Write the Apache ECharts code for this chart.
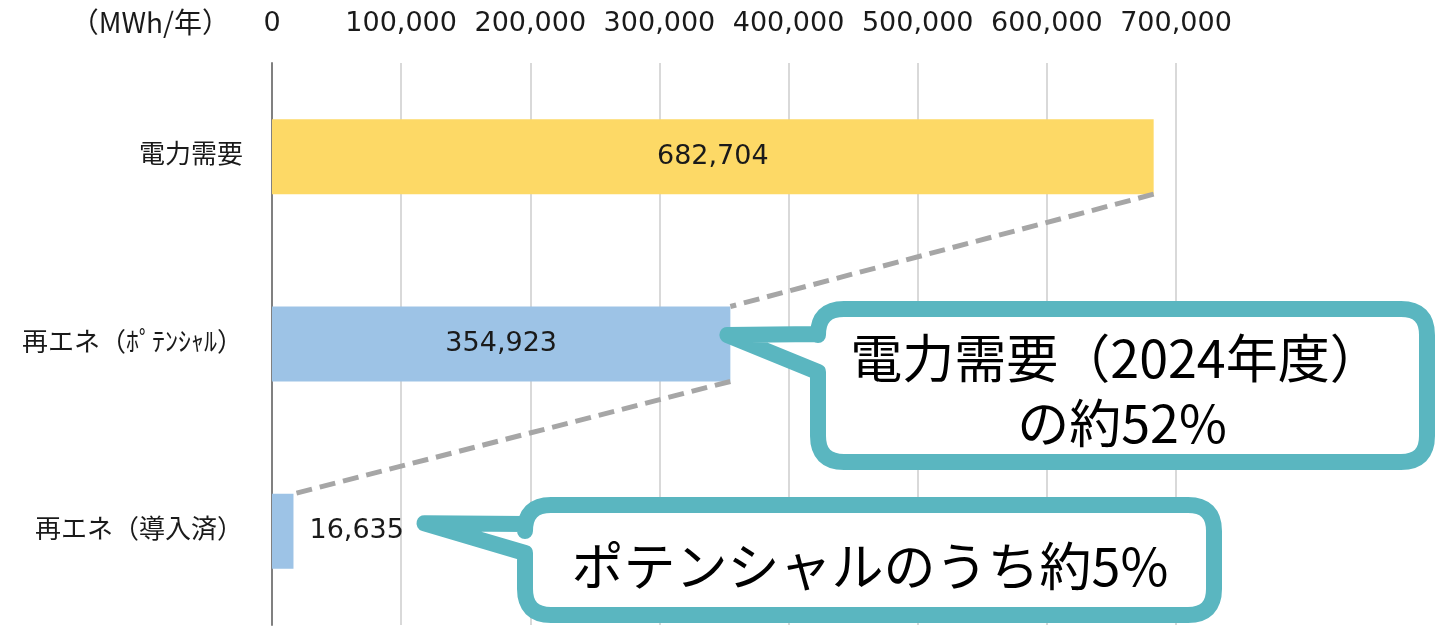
<!DOCTYPE html>
<html>
<head>
<meta charset="utf-8">
<script src="https://cdn.jsdelivr.net/npm/echarts@6/dist/echarts.min.js"></script>
<style>
html,body{margin:0;padding:0;background:#fff;}
#chart{width:1437px;height:626px;}
</style>
</head>
<body>
<div id="chart"></div>
<script>
// ---- data ----
const categories = ['電力需要', '再エネ（ﾎﾟﾃﾝｼｬﾙ）', '再エネ（導入済）'];
const values = [682704, 354923, 16635];
const barColors = ['#FDD966', '#9DC3E6', '#9DC3E6'];
const unitLabel = '（MWh/年）';
const callout1Lines = ['電力需要（2024年度）', 'の約52%'];
const callout2Text = 'ポテンシャルのうち約5%';
const axisMin = 0, axisMax = 700000, axisStep = 100000;

const NUM_FONT = '"DejaVu Sans", "Noto Sans CJK JP", sans-serif';
const JP_FONT = '"Noto Sans CJK JP", sans-serif';
const TEAL = '#5AB6C0';

const fmt = v => v.toLocaleString('en-US');

const connectors = [
  [values[0], 0, values[1], 1],
  [values[1], 1, values[2], 2]
];

function calloutPath(L, T, R, B, r, y1, y2, tx, ty) {
  return [
    'M', L + r, T,
    'L', R - r, T,
    'Q', R, T, R, T + r,
    'L', R, B - r,
    'Q', R, B, R - r, B,
    'L', L + r, B,
    'Q', L, B, L, B - r,
    'L', L, y2,
    'L', tx, ty,
    'L', L, y1,
    'L', L, T + r,
    'Q', L, T, L + r, T,
    'Z'
  ].join(' ');
}

const chart = echarts.init(document.getElementById('chart'), null, {renderer: 'canvas'});

chart.setOption({
  animation: false,
  backgroundColor: '#ffffff',
  grid: {left: 272, right: 261, top: 63, bottom: 1, containLabel: false},
  graphic: [
    {
      type: 'text', x: 230, y: 22, z: 10,
      style: {text: unitLabel, fill: '#1a1a1a', font: '28px ' + JP_FONT, textAlign: 'right', textVerticalAlign: 'middle', verticalAlign: 'middle'}
    }
  ],
  xAxis: {
    type: 'value', position: 'top', min: axisMin, max: axisMax, interval: axisStep,
    axisLine: {show: false}, axisTick: {show: false},
    axisLabel: {
      margin: 26, color: '#1a1a1a', fontSize: 27, fontFamily: NUM_FONT,
      formatter: v => fmt(v)
    },
    splitLine: {show: true, lineStyle: {color: '#D9D9D9', width: 2}}
  },
  yAxis: {
    type: 'category', data: categories, inverse: true,
    axisLine: {show: true, lineStyle: {color: '#808080', width: 2}},
    axisTick: {show: false},
    axisLabel: {margin: 29, color: '#1a1a1a', fontSize: 26, fontFamily: NUM_FONT}
  },
  series: [
    {
      type: 'bar', barWidth: '40%',
      data: values.map((v, i) => ({
        value: v,
        itemStyle: {color: barColors[i]},
        label: i === 2 ? {position: 'right', distance: 16} : {position: 'inside'}
      })),
      label: {
        show: true, color: '#1a1a1a', fontSize: 27, fontFamily: NUM_FONT,
        formatter: p => fmt(p.value)
      },
      z: 2
    },
    {
      type: 'custom', silent: true, z: 3,
      encode: {x: [0, 2], y: [1, 3]},
      data: connectors,
      renderItem: function (params, api) {
        const p1 = api.coord([api.value(0), api.value(1)]);
        const p2 = api.coord([api.value(2), api.value(3)]);
        const band = api.size([0, 1])[1];
        const half = band * 0.2;
        return {
          type: 'line',
          shape: {x1: p1[0], y1: p1[1] + half, x2: p2[0], y2: p2[1] - half},
          style: {stroke: '#A6A6A6', lineWidth: 5, lineDash: [16, 8], fill: null}
        };
      }
    },
    {
      type: 'custom', silent: true, z: 10, clip: false,
      encode: {x: [0, 2], y: [1, 3]},
      data: [[values[1], 1, values[2], 2]],
      renderItem: function (params, api) {
        const t1 = api.coord([api.value(0), api.value(1)]);
        const t2 = api.coord([api.value(2), api.value(3)]);
        const stroke = {fill: '#ffffff', stroke: TEAL, lineWidth: 16, lineJoin: 'round'};
        const txt = (s, x, y) => ({
          type: 'text', x: x, y: y,
          style: {text: s, fill: '#000', font: '52px ' + JP_FONT, textAlign: 'center', textVerticalAlign: 'middle', verticalAlign: 'middle'}
        });
        return {
          type: 'group',
          children: [
            {type: 'path', shape: {pathData: calloutPath(818, 309, 1427, 462, 26, 334, 372, t1[0] - 3, t1[1] - 9)}, style: stroke},
            txt(callout1Lines[0], 1116, 358),
            txt(callout1Lines[1], 1122, 423),
            {type: 'path', shape: {pathData: calloutPath(525, 505, 1214, 615, 26, 524, 553, t2[0] + 131, t2[1] - 8)}, style: stroke},
            txt(callout2Text, 870, 566)
          ]
        };
      }
    }
  ]
});
</script>
</body>
</html>
